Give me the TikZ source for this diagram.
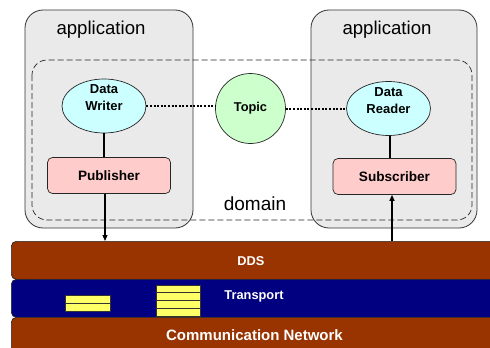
\documentclass[tikz,border=0pt]{standalone}
\usepackage{fontspec}
\setmainfont{Liberation Sans}
\usetikzlibrary{shapes.geometric,arrows.meta}

\definecolor{appgray}{HTML}{EAEAEA}
\definecolor{endpoint}{HTML}{CCFFFF}
\definecolor{entity}{HTML}{FFCCCC}
\definecolor{topicgreen}{HTML}{CCFFCC}
\definecolor{ddsbrown}{HTML}{993300}
\definecolor{netblue}{HTML}{000080}
\definecolor{msgyellow}{HTML}{FFFF66}

\tikzset{
  appbox/.style={draw=black!80, fill=appgray, line width=0.8pt, rounded corners=18pt},
  apptitle/.style={font=\fontsize{18.6}{20}\selectfont, inner sep=0pt},
  domainbox/.style={draw=black!85, line width=0.7pt, dash pattern=on 6pt off 3pt, rounded corners=15pt},
  endpointnode/.style={ellipse, draw=black!85, fill=endpoint, line width=0.7pt,
    minimum width=84pt, minimum height=54pt, inner sep=0pt},
  eptext/.style={font=\bfseries\fontsize{13}{17}\selectfont, align=center, inner sep=0pt},
  entitynode/.style={rectangle, draw=black!85, fill=entity, line width=0.7pt, rounded corners=5pt,
    minimum width=123pt, minimum height=36pt, inner sep=0pt, font=\bfseries\fontsize{13.6}{15}\selectfont},
  topicnode/.style={circle, draw=black!85, fill=topicgreen, line width=0.7pt, minimum size=70pt,
    inner sep=0pt, font=\bfseries\fontsize{12.8}{14}\selectfont},
  assoc/.style={line width=2pt, dash pattern=on 2pt off 1.6pt},
  link/.style={line width=1.1pt},
  arr/.style={line width=1.1pt, -{Triangle[length=6pt, width=5pt]}},
  band/.style={rectangle, draw=black!85, line width=0.7pt, rounded corners=5pt, inner sep=0pt,
    minimum width=495pt, anchor=north west},
  bandtext/.style={text=white, inner sep=0pt, font=\bfseries\fontsize{12.8}{14}\selectfont},
  msg/.style={draw=black!80, fill=msgyellow, line width=0.6pt}
}

\begin{document}
\begin{tikzpicture}[x=1pt, y=-1pt]
  \useasboundingbox (0,0) rectangle (490,348);

  % the two applications
  \draw[appbox] (25,10) rectangle (193,228);
  \draw[appbox] (311,10) rectangle (477,228);
  \node[apptitle] (app1) at (101,30) {application};
  \node[apptitle] (app2) at (387,30) {application};

  % the domain that spans both of them
  \draw[domainbox] (32,60) rectangle (472,220);
  \node[apptitle, font=\fontsize{19}{20}\selectfont] (dom) at (255,204) {domain};

  % writer side
  \node[endpointnode] (dw) at (104,106) {};
  \node[eptext] (dwt) at ([yshift=8pt]dw.center) {Data\\Writer};
  \node[entitynode] (pub) at (109,175.5) {Publisher};

  % reader side
  \node[endpointnode] (dr) at (388.5,108.5) {};
  \node[eptext] (drt) at ([yshift=8pt]dr.center) {Data\\Reader};
  \node[entitynode] (sub) at (394.5,176.5) {Subscriber};

  % topic between them
  \node[topicnode] (topic) at (250.5,108.5) {Topic};

  \draw[assoc] (dw.east) -- (topic.west |- dw.east);
  \draw[assoc] (topic.east |- dr.west) -- (dr.west);
  \draw[link] (dw.south -| 104,0) -- (pub.north -| 104,0);
  \draw[link] (dr.south -| 390,0) -- (sub.north -| 390,0);

  % protocol layers
  \node[band, fill=ddsbrown, minimum height=38pt] (dds) at (11,241) {};
  \node[band, fill=netblue, minimum height=38pt] (trans) at (11,279) {};
  \node[band, fill=ddsbrown, minimum height=40pt] (net) at (11,317) {};
  \node[bandtext] (ddst) at (251,261) {DDS};
  \node[bandtext] (transt) at (254,296) {Transport};
  \node[bandtext, font=\bfseries\fontsize{15}{17}\selectfont] (nett) at (254.5,335) {Communication Network};

  % messages in transit
  \foreach \i in {0,1} {
    \draw[msg] (65,295+8*\i) rectangle (110,303+8*\i);
  }
  \foreach \i in {0,1,2,3} {
    \draw[msg] (156,285+7.75*\i) rectangle (200,292.75+7.75*\i);
  }

  % data flow to and from the middleware
  \draw[arr] (pub.south -| 105,0) -- (dds.north -| 105,0);
  \draw[arr] (dds.north -| 392,0) -- (sub.south -| 392,0);
\end{tikzpicture}
\end{document}
